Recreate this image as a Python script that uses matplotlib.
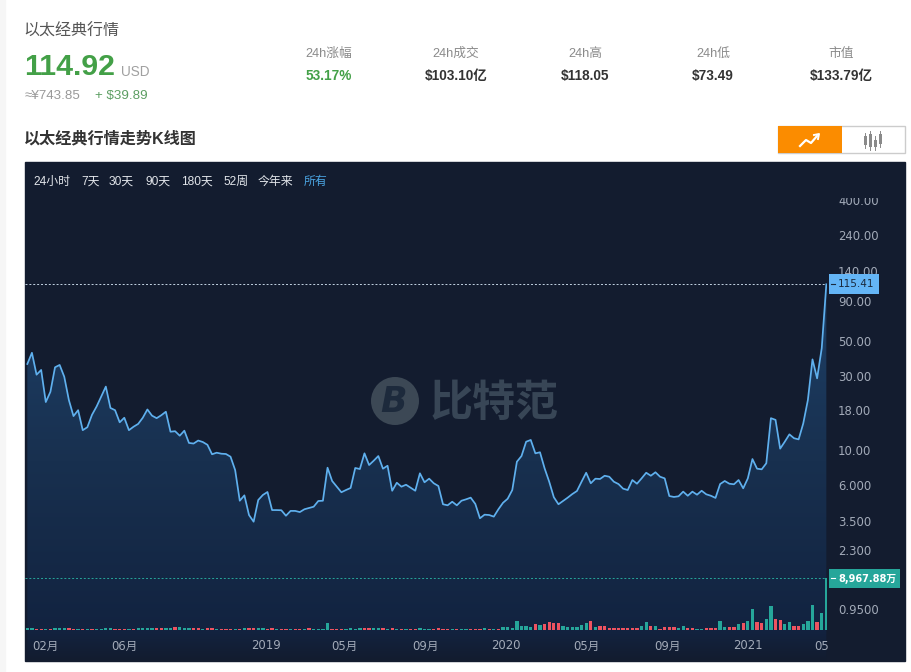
import matplotlib
matplotlib.use('Agg')
import matplotlib.pyplot as plt
import numpy as np
import pandas as pd
from matplotlib.colors import LinearSegmentedColormap
from matplotlib.patches import Rectangle, Circle
from matplotlib.ticker import FixedLocator, FixedFormatter, NullLocator

plt.rcParams['font.family'] = ['Liberation Sans', 'Noto Sans CJK SC', 'DejaVu Sans']

W, H = 911, 672

# weekly close
prices = [35.6, 42.0, 30.4, 32.6, 20.3, 23.6, 33.9, 35.1, 29.5, 20.9,
          16.5, 18.0, 13.4, 14.0, 16.8, 19.0, 22.0, 25.5, 18.6, 18.0,
          15.05, 16.1, 13.4, 14.1, 14.7, 16.1, 18.2, 16.6, 16.0, 16.7,
          17.6, 13.1, 13.2, 12.35, 13.3, 11.1, 11.0, 11.5, 11.25, 10.8,
          9.39, 9.61, 9.47, 9.43, 9.06, 7.44, 4.73, 5.12, 3.83, 3.47,
          4.78, 5.15, 5.38, 4.12, 4.12, 4.11, 3.79, 4.07, 4.07, 4.0,
          4.17, 4.25, 4.33, 4.71, 4.73, 7.70, 6.33, 5.82, 5.36, 5.54,
          5.71, 7.67, 7.55, 9.52, 8.01, 8.54, 9.15, 7.59, 7.93, 5.48,
          6.17, 5.82, 5.99, 5.73, 5.48, 7.09, 6.21, 6.55, 6.12, 5.88,
          4.49, 4.42, 4.66, 4.42, 4.73, 4.83, 4.95, 4.51, 3.65, 3.85,
          3.83, 3.74, 4.17, 4.59, 4.87, 5.54, 8.41, 9.15, 11.3, 11.6,
          9.52, 9.67, 7.63, 6.26, 4.98, 4.49, 4.71, 4.95, 5.22, 5.46,
          6.26, 7.15, 6.12, 6.55, 6.52, 6.84, 6.74, 6.26, 6.05, 5.65,
          5.54, 6.42, 6.08, 6.58, 7.15, 6.84, 7.2, 6.74, 6.58, 5.07,
          5.0, 5.05, 5.41, 5.09, 5.41, 5.17, 5.48, 5.2, 5.09, 4.93,
          6.05, 6.33, 6.08, 6.03, 6.42, 5.68, 6.58, 8.75, 7.59, 7.52,
          8.22, 16.0, 15.6, 10.2, 11.3, 12.6, 11.9, 11.7, 14.8, 20.9,
          38.1, 28.8, 44.9, 115.41]

# weekly volume in 万
volumes = [340, 340, 170, 170, 170, 170, 340, 340, 340, 340,
           170, 170, 170, 170, 170, 170, 170, 340, 340, 170,
           170, 170, 170, 170, 340, 340, 340, 340, 340, 340,
           340, 340, 520, 520, 340, 340, 340, 340, 170, 340,
           340, 170, 170, 170, 170, 170, 170, 340, 340, 340,
           340, 340, 170, 340, 170, 170, 170, 170, 170, 170,
           170, 340, 170, 170, 170, 1210, 170, 170, 170, 170,
           340, 170, 340, 340, 340, 340, 340, 340, 170, 340,
           170, 170, 170, 170, 170, 340, 170, 170, 170, 340,
           170, 170, 170, 170, 170, 170, 170, 170, 170, 340,
           170, 170, 170, 520, 520, 340, 1550, 690, 690, 520,
           1030, 860, 1030, 1380, 1210, 1210, 690, 520, 520, 520,
           860, 1210, 1550, 520, 690, 690, 340, 340, 340, 340,
           340, 340, 340, 690, 1380, 690, 690, 170, 520, 520,
           520, 340, 690, 340, 340, 170, 170, 340, 340, 340,
           1550, 520, 520, 520, 1030, 1210, 1550, 3620, 1380, 1210,
           1900, 4140, 1900, 1720, 1030, 1380, 690, 690, 1030, 1550,
           4310, 1380, 2930, 8967.88]
# bar colour per week, g teal / r red
vol_side = list('ggrrgrgggrrgrgrggggrrrgrggggrrggrgggrrgrrgr'
                'rrgrgrrggrrgrrgrrgrggg'
                'g'
                'rrrggggrrggrgrgrgrrg'
                'ggrrrrgrggrrrgrgrggg'
                'ggggrgrrrr'
                'ggggggrgrr'
                'rrrrrrrggr'
                'grrrrggrrg'
                'grrrggrrgr'
                'ggrrggrrgg'
                'rrgggrgg')

xtick_dates = ['2018-02-01', '2018-06-01', '2019-01-01', '2019-05-01', '2019-09-01',
               '2020-01-01', '2020-05-01', '2020-09-01', '2021-01-01', '2021-05-01']
xtick_labels = ['02月', '06月', '2019', '05月', '09月', '2020', '05月', '09月', '2021', '05月']
ytick_vals = [400, 240, 140, 90, 50, 30, 18, 10, 6, 3.5, 2.3, 0.95]
ytick_labels = ['400.00', '240.00', '140.00', '90.00', '50.00', '30.00', '18.00', '10.00',
                '6.000', '3.500', '2.300', '0.9500']
range_labels = ['24小时', '7天', '30天', '90天', '180天', '52周', '今年来', '所有']
range_x = [33, 81, 109, 145, 181, 223, 258, 304]
stat_names = ['24h涨幅', '24h成交', '24h高', '24h低', '市值']
stat_values = ['53.17%', '$103.10亿', '$118.05', '$73.49', '$133.79亿']
stat_x = [329, 456, 585, 713, 841]

panel = '#131c2f'
green = '#43a047'
axis_text = '#a3abb9'
axis_font = ['DejaVu Sans', 'Noto Sans CJK SC']

dates = pd.date_range('2018-01-05', periods=len(prices), freq='7D')
fig = plt.figure(figsize=(W / 100, H / 100), dpi=100, facecolor='white')

fig.add_artist(Rectangle((0, 0), 5 / W, 1, transform=fig.transFigure, color='#f6f6f6', zorder=-2))
fig.add_artist(Rectangle((25 / W, 1 - 661 / H), 880 / W, 499 / H, transform=fig.transFigure,
                         color=panel, zorder=-1))

ax = fig.add_axes([25 / W, 1 - 661 / H, 802 / W, 499 / H], facecolor='none')
ylow, yhigh = 0.444, 702

# gradient under the line
poly = ax.fill_between(dates, prices, ylow, facecolor='none', edgecolor='none')
cmap = LinearSegmentedColormap.from_list('fade', [(0, '#1f4a78'), (0.35, '#1c3b60'),
                                                  (0.6, '#18304f'), (0.94, '#122340'), (1, panel)])
im = ax.imshow(np.linspace(0, 1, 256).reshape(-1, 1), cmap=cmap, aspect='auto',
               extent=[0, 1, 0, 1], transform=ax.transAxes, zorder=1)
im.set_clip_path(poly.get_paths()[0], transform=ax.transData)

ax.plot(dates, prices, color='#5fb0ee', lw=1.25, zorder=3)
ax.axhline(prices[-1], color='#c4d4e4', lw=0.7, ls=(0, (2, 2)), zorder=2)

ax.set_yscale('log')
ax.set_ylim(ylow, yhigh)
ax.set_xlim(dates[0] - pd.Timedelta(days=3.5), dates[-1])

# volume bars on their own scale
axv = ax.twinx()
axv.set_ylim(-31 * 172.46, 468 * 172.46)
axv.bar(dates, volumes, width=5, zorder=4,
        color=['#26a69a' if s == 'g' else '#ef5360' for s in vol_side])
axv.axhline(volumes[-1], color='#26a69a', lw=0.7, ls=(0, (2, 2)))
axv.set_yticks([])
axv.patch.set_visible(False)
for s in axv.spines.values():
    s.set_visible(False)

# twinx puts the price ticks back on the left, so do these after it
ax.yaxis.tick_right()
ax.yaxis.set_major_locator(FixedLocator(ytick_vals))
ax.yaxis.set_major_formatter(FixedFormatter(ytick_labels))
ax.yaxis.set_minor_locator(NullLocator())
ax.set_xticks(pd.to_datetime(xtick_dates))
ax.set_xticklabels(xtick_labels)
ax.tick_params(axis='y', length=0, pad=7.9, labelsize=8.4, labelcolor=axis_text)
ax.tick_params(axis='x', length=0, pad=-15.5, labelsize=8.4, labelcolor=axis_text)
for lab in ax.get_xticklabels() + ax.get_yticklabels():
    lab.set_fontfamily(axis_font)
for s in ax.spines.values():
    s.set_visible(False)

# everything else in pixel coordinates on top
ui = fig.add_axes([0, 0, 1, 1], facecolor='none', zorder=5)
ui.set_xlim(0, W)
ui.set_ylim(H, 0)
ui.axis('off')

ui.text(23.5, 31, '以太经典行情', fontsize=11.5, color='#555555', va='center')
ui.text(24, 67, '114.92', fontsize=21.8, color=green, weight='bold', va='center')
ui.text(121, 72, 'USD', fontsize=9.8, color='#a0a0a0', va='center')
ui.text(25, 96, '≈¥743.85', fontsize=9.6, color='#999999', va='center')
ui.text(95, 96, '+ $39.89', fontsize=9.6, color='#5c9e62', va='center')
for i, x in enumerate(stat_x):
    ui.text(x, 54, stat_names[i], fontsize=9.2, color='#8a8a8a', ha='center', va='center')
    ui.text(x, 76, stat_values[i], fontsize=9.8, weight='bold', ha='center', va='center',
            color=green if i == 0 else '#333333')
ui.text(24, 139, '以太经典行情走势K线图', fontsize=11.6, color='#333333', weight='bold', va='center')

# line / candle toggle
ui.add_patch(Rectangle((778, 126), 127, 27, fc='white', ec='#cccccc', lw=1))
ui.add_patch(Rectangle((778, 126), 64, 27, fc='#fb8c00', ec='none'))
ui.plot([800, 806, 811, 817], [146, 140, 143, 136], color='white', lw=1.6)
ui.plot([814, 819, 818], [135, 134, 139], color='white', lw=1.4)
for cx, y0, y1, b0, b1 in [(865, 133, 148, 136, 145), (870, 131, 150, 134, 147),
                           (875, 136, 150, 140, 147), (880, 131, 147, 134, 144)]:
    ui.plot([cx, cx], [y0, y1], color='#8a8a8a', lw=0.7)
    ui.add_patch(Rectangle((cx - 1.5, b0), 3, b1 - b0, fc='#8a8a8a', ec='none'))

for lab, x in zip(range_labels, range_x):
    ui.text(x, 182, lab, fontsize=8.6, va='center',
            color='#4aa3e0' if lab == '所有' else '#e2e5ea')

# logo watermark
ui.add_patch(Circle((395, 401), 24, fc='#3c4855', ec='none'))
ui.text(394, 402, 'B', fontsize=25, style='italic', weight='bold', color='#1d2a3c',
        ha='center', va='center', family='DejaVu Sans')
ui.text(430, 403, '比特范', fontsize=31, weight='bold', color='#384656', va='center',
        family='Noto Sans CJK SC')

# cut the clipped labels like the chart does
ui.add_patch(Rectangle((832, 189), 50, 9, fc=panel, ec='none'))
ui.add_patch(Rectangle((828, 635), 30, 20, fc=panel, ec='none'))

# last value tags
ui.add_patch(Rectangle((829, 274), 50, 20, fc='#64b5f6', ec='none'))
ui.plot([831, 835], [284, 284], color='#1b2a3d', lw=0.8)
ui.text(838, 284, f'{prices[-1]:.2f}', fontsize=7.5, color='#1b2a3d', va='center', family=axis_font)
ui.add_patch(Rectangle((829, 569), 71, 19, fc='#26a69a', ec='none'))
ui.plot([831, 835], [578, 578], color='white', lw=0.8)
ui.text(838, 578.5, '8,967.88万', fontsize=7.0, color='white', weight='bold', va='center', family=axis_font)

fig.savefig('out.png', dpi=100)
